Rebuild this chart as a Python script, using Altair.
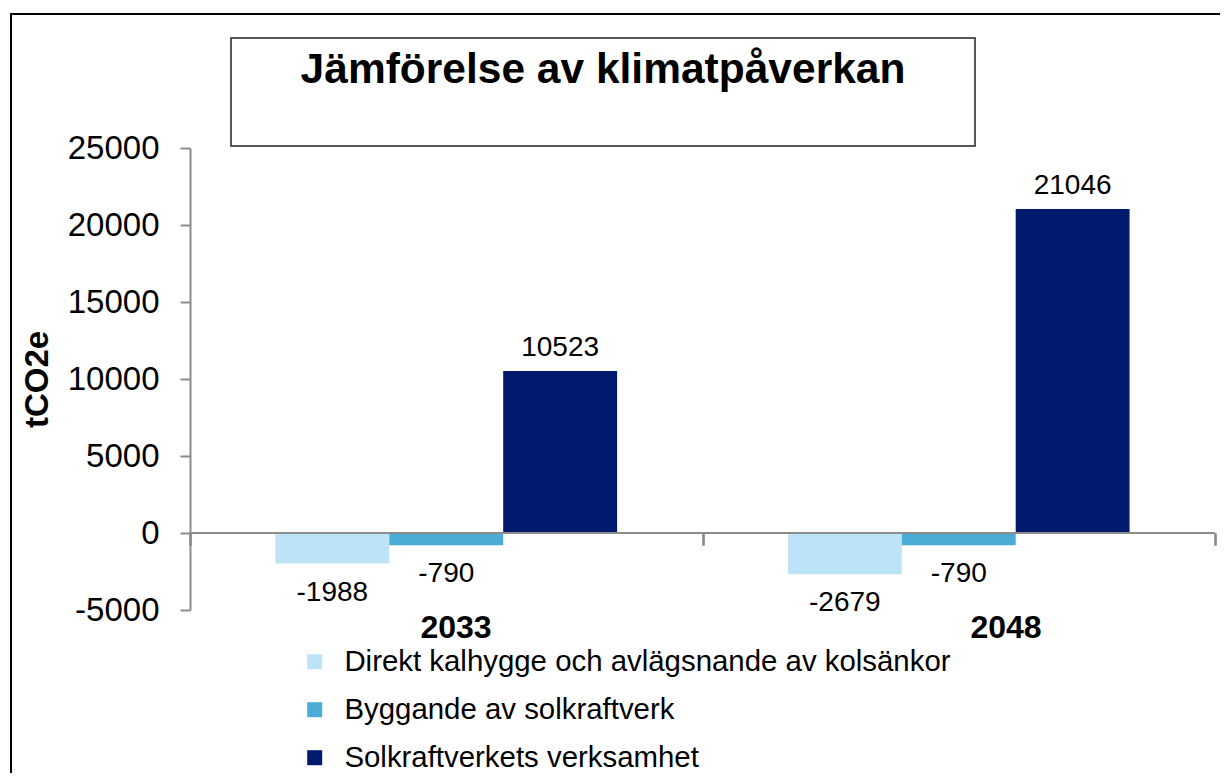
import altair as alt
import pandas as pd

years = ["2033", "2048"]
series = [
    "Direkt kalhygge och avlägsnande av kolsänkor",
    "Byggande av solkraftverk",
    "Solkraftverkets verksamhet",
]
vals_2033 = [-1988, -790, 10523]
vals_2048 = [-2679, -790, 21046]
colors = ["#BDE4F6", "#4BACD6", "#001A6E"]
title_text = "Jämförelse av klimatpåverkan"
y_title = "tCO2e"
y_ticks = [-5000, 0, 5000, 10000, 15000, 20000, 25000]

rows = []
for yr, vals in zip(years, [vals_2033, vals_2048]):
    for s, v in zip(series, vals):
        rows.append({"year": yr, "series": s, "value": v, "label": str(v)})
df = pd.DataFrame(rows)

W, H = 1025, 462
FONT = "Liberation Sans"
GREY = "#8c8c8c"

xscale = alt.Scale(domain=years, paddingInner=0, paddingOuter=0)
x_axis = alt.Axis(orient="bottom", offset=-77, domain=False, labels=False, ticks=True,
                  tickBand="extent", tickSize=12, tickColor=GREY, tickWidth=2, title=None)
x_enc = alt.X("year:N", scale=xscale, sort=years, axis=x_axis)
xoff = alt.XOffset("series:N", sort=series,
                   scale=alt.Scale(domain=series, paddingOuter=0.75, paddingInner=0))
yscale = alt.Scale(domain=[-5000, 25000], nice=False, zero=False)
y_axis = alt.Axis(values=y_ticks, grid=False, title=y_title, labelExpr="'' + datum.value",
                  labelFont=FONT, labelFontSize=33,
                  labelColor="black", labelPadding=21, tickSize=10, tickColor=GREY, tickWidth=2,
                  domainColor=GREY, domainWidth=2, titleFont=FONT, titleFontSize=33,
                  titleFontWeight="bold", titleColor="black", titlePadding=13)

base = alt.Chart(df)

bars = base.mark_bar().encode(
    x=x_enc,
    xOffset=xoff,
    y=alt.Y("value:Q", scale=yscale, axis=y_axis),
    color=alt.Color("series:N", sort=series, scale=alt.Scale(domain=series, range=colors),
                    legend=alt.Legend(orient="none", legendX=110, legendY=499, title=None,
                                      symbolType="square", symbolSize=225, symbolStrokeWidth=0,
                                      labelFont=FONT, labelFontSize=29.4, labelColor="black",
                                      labelOffset=15, rowPadding=17, labelLimit=1000)),
)

pos_labels = base.transform_filter("datum.value > 0").mark_text(
    font=FONT, fontSize=28, color="black", baseline="alphabetic", dy=-15
).encode(x=x_enc, xOffset=xoff, y=alt.Y("value:Q", scale=yscale), text="label:N")

neg_labels = base.transform_filter("datum.value < 0").mark_text(
    font=FONT, fontSize=28, color="black", baseline="alphabetic", dy=37
).encode(x=x_enc, xOffset=xoff, y=alt.Y("value:Q", scale=yscale), text="label:N")

zero_rule = alt.Chart(pd.DataFrame({"z": [0]})).mark_rule(color=GREY, strokeWidth=2).encode(
    y=alt.Y("z:Q", scale=yscale), x=alt.value(0), x2=alt.value(W)
)

cat_labels = alt.Chart(pd.DataFrame({"yr": years})).mark_text(
    font=FONT, fontSize=32, fontWeight="bold", color="black", baseline="alphabetic"
).encode(
    x=alt.X("yr:N", sort=years, scale=alt.Scale(domain=years, range=[-9, 1091],
                                                paddingInner=0, paddingOuter=0), axis=None),
    y=alt.value(490), text="yr:N")

tdf = pd.DataFrame({"t": [title_text]})
frame = alt.Chart(tdf).mark_rect(fillOpacity=0, stroke="black", strokeWidth=2).encode(
    x=alt.value(-179), x2=alt.value(W + 200), y=alt.value(-134), y2=alt.value(H + 400)
)
title_box = alt.Chart(tdf).mark_rect(fill="white", stroke="#222222", strokeWidth=1.5).encode(
    x=alt.value(41), x2=alt.value(785), y=alt.value(-110), y2=alt.value(-2)
)
title = alt.Chart(tdf).mark_text(
    font=FONT, fontSize=42.5, fontWeight="bold", color="black", align="center", baseline="alphabetic"
).encode(x=alt.value(413), y=alt.value(-65), text="t:N")

chart = alt.layer(
    frame, title_box, title, bars, zero_rule, pos_labels, neg_labels, cat_labels
).resolve_scale(x="independent").properties(
    width=W, height=H,
    autosize=alt.AutoSizeParams(type="none"),
    padding={"left": 182, "top": 140, "right": 5, "bottom": 163},
    background="white",
).configure_view(stroke=None)

chart.save("out.html", embed_options={"renderer": "svg", "actions": False})
